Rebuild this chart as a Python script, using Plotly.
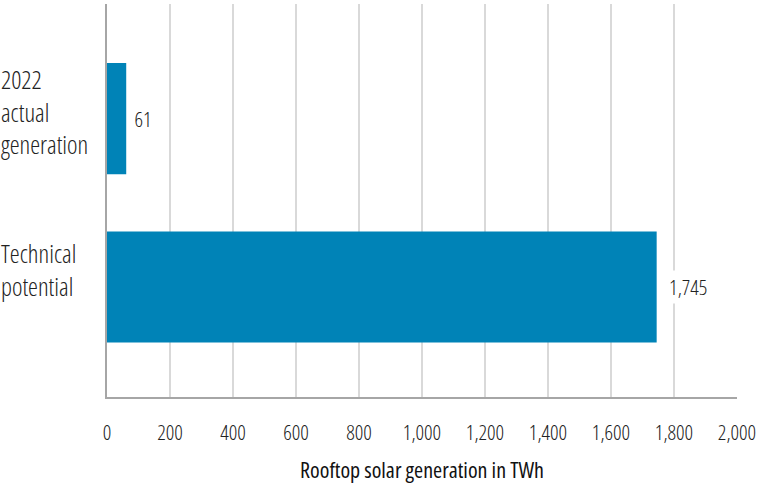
import plotly.graph_objects as go

categories = ["2022<br>actual<br>generation", "Technical<br>potential"]
values = [61, 1745]
value_labels = ["61", "1,745"]
tick_vals = [0, 200, 400, 600, 800, 1000, 1200, 1400, 1600, 1800, 2000]
tick_text = ["0", "200", "400", "600", "800", "1,000", "1,200", "1,400", "1,600", "1,800", "2,000"]
x_title = "Rooftop solar generation in TWh"

FONT = "Open Sans, sans-serif"
TEXT = "#222222"
BAR = "#0083b7"
label_lift = [-7, -18]

fig = go.Figure()
fig.add_trace(go.Bar(
    x=values, y=list(range(len(categories))), orientation="h",
    marker=dict(color=BAR, line=dict(width=0)),
    width=0.66, hoverinfo="skip",
))

# category labels, left aligned at the figure edge
for i, cat in enumerate(categories):
    fig.add_annotation(
        x=0, xref="paper", xshift=-108, xanchor="left",
        y=i, yref="y", yanchor="middle", yshift=-label_lift[i],
        text=cat, showarrow=False, align="left",
        font=dict(family=FONT, size=25, color=TEXT, weight=350),
    )

# value labels beside the bars
for i, (v, lab) in enumerate(zip(values, value_labels)):
    fig.add_annotation(
        x=v, xref="x", xanchor="left", xshift=2,
        y=i, yref="y", yanchor="middle",
        text=lab, showarrow=False, bgcolor="white", borderpad=2,
        font=dict(family=FONT, size=21, color=TEXT, weight=330),
    )

fig.update_layout(
    width=760, height=484,
    margin=dict(l=107, r=23, t=4, b=87),
    paper_bgcolor="white", plot_bgcolor="white",
    showlegend=False,
    font=dict(family=FONT, color=TEXT),
    xaxis=dict(
        range=[0, 2000], tickvals=tick_vals, ticktext=tick_text,
        showgrid=True, gridcolor="#d9d9d9", gridwidth=2,
        showline=True, linecolor="#a6a6a6", linewidth=2,
        zeroline=False, ticks="", ticklabelstandoff=16,
        ticklabeloverflow="allow", automargin=False,
        tickfont=dict(family=FONT, size=21, color=TEXT, weight=330),
        title=dict(text=x_title, standoff=18,
                   font=dict(family=FONT, size=22, color="#111111", weight=400)),
        fixedrange=True,
    ),
    yaxis=dict(
        range=[1.653, -0.68], showticklabels=False, showgrid=False,
        showline=True, linecolor="#a6a6a6", linewidth=2, zeroline=False,
        ticks="", fixedrange=True, automargin=False,
    ),
)

# narrow (condensed) glyph width for all chart text
condense = (
    "setTimeout(function(){document.querySelectorAll('svg text')"
    ".forEach(function(t){t.style.fontStretch='75%';});},0);"
)

fig.write_html("out.html", post_script=condense)
